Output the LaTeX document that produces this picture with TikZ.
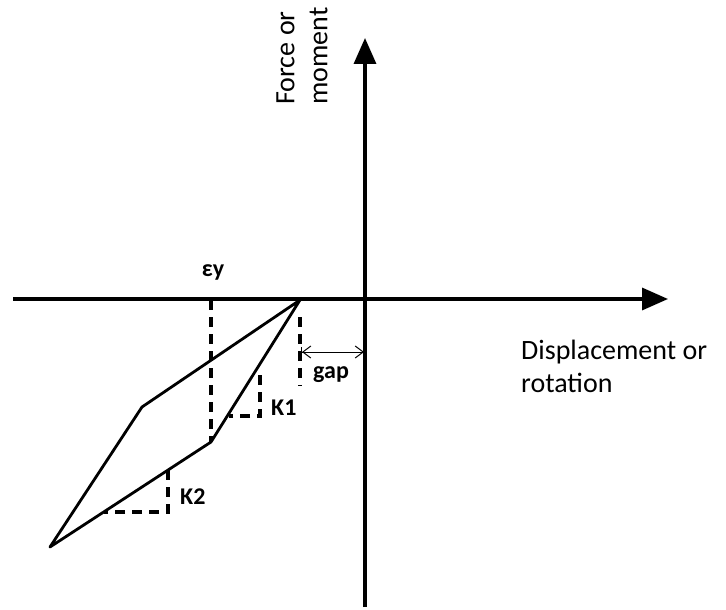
\documentclass[tikz,border=0pt]{standalone}
\usepackage{fontspec}
\setmainfont{Carlito}
\usetikzlibrary{arrows.meta,positioning}
\tikzset{
    axis/.style={line width=3.5pt,-{Triangle[length=26pt,width=22pt]}},
    loop/.style={line width=2.8pt,line join=round},
    guide/.style={line width=3.2pt,dash pattern=on 10pt off 7pt},
    lbl/.style={font=\bfseries\fontsize{24}{28}\selectfont,inner sep=0pt},
    axlbl/.style={font=\fontsize{28}{33}\selectfont,align=left,inner sep=0pt}
}

\begin{document}
\begin{tikzpicture}[x=1pt,y=-1pt]
    \useasboundingbox (0,0) rectangle (726,610);

    % axes
    \coordinate (xl) at (13,299);
    \coordinate (xr) at (668,299);
    \coordinate (yb) at (365,607);
    \coordinate (yt) at (365,38);
    \draw[axis] (xl) -- (xr);
    \draw[axis] (yb) -- (yt);

    % hysteresis loop
    \coordinate (top) at (300,300);
    \coordinate (ul) at (142,407);
    \coordinate (bl) at (50,547);
    \coordinate (lr) at (211,442);
    \draw[loop] (top) -- (ul) -- (bl) -- (lr) -- cycle;

    % yield line
    \coordinate (ey) at (211,300);
    \draw[guide] (ey) -- (lr);
    \node[lbl] (eylbl) at (213,272) {εy};

    % gap
    \coordinate (g1) at (300,317);
    \coordinate (g2) at (300,386);
    \draw[guide] (g1) -- (g2);
    \coordinate (ga) at (301,352);
    \coordinate (gb) at (364,352);
    \draw[line width=1pt,{Bar[width=10pt]Straight Barb[length=8pt,width=12pt]}-{Straight Barb[length=8pt,width=12pt]}] (ga) -- (gb);
    \node[lbl,anchor=north west] (gaplbl) at (313,366) {gap};

    % stiffness triangles
    \coordinate (k1a) at (260,375);
    \coordinate (k1c) at (260,416);
    \coordinate (k1b) at (229,416);
    \draw[guide] (k1a) -- (k1c) -- (k1b);
    \node[lbl,anchor=west] (k1lbl) at (271,408) {K1};

    \coordinate (k2a) at (168,470);
    \coordinate (k2c) at (168,512);
    \coordinate (k2b) at (104,512);
    \draw[guide] (k2a) -- (k2c) -- (k2b);
    \node[lbl,anchor=west] (k2lbl) at (180,497) {K2};

    % axis labels
    \node[axlbl,rotate=90,anchor=center] (ylbl) at (302,56) {Force or\\moment};
    \node[axlbl,anchor=north west] (xlbl) at (521,340) {Displacement or\\rotation};
\end{tikzpicture}
\end{document}
